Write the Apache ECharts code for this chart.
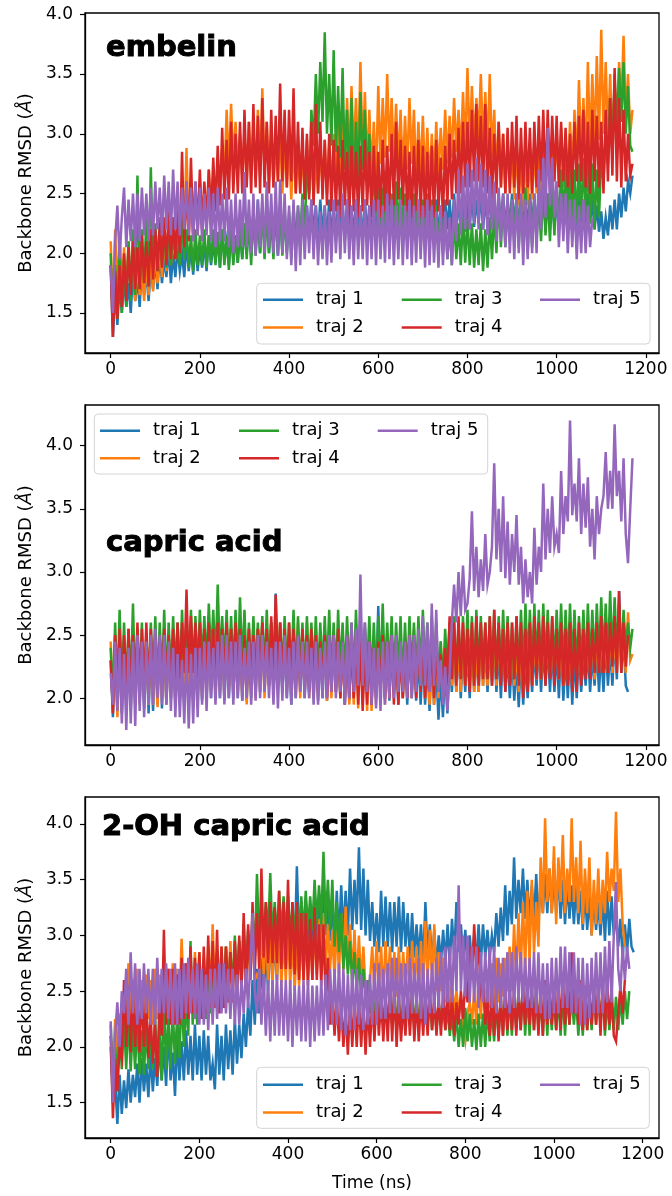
<!DOCTYPE html>
<html><head><meta charset="utf-8">
<script src="https://cdn.jsdelivr.net/npm/echarts@6/dist/echarts.min.js"></script>
<style>html,body{margin:0;padding:0;background:#fff}#c{width:672px;height:1196px}</style>
</head><body><div id="c"></div>
<script>
const TIME = [0,5,10,15,20,25,30,35,40,45,50,55,60,65,70,75,80,85,90,95,
100,105,110,115,120,125,130,135,140,145,150,155,160,165,170,175,180,185,190,195,
200,205,210,215,220,225,230,235,240,245,250,255,260,265,270,275,280,285,290,295,
300,305,310,315,320,325,330,335,340,345,350,355,360,365,370,375,380,385,390,395,
400,405,410,415,420,425,430,435,440,445,450,455,460,465,470,475,480,485,490,495,
500,505,510,515,520,525,530,535,540,545,550,555,560,565,570,575,580,585,590,595,
600,605,610,615,620,625,630,635,640,645,650,655,660,665,670,675,680,685,690,695,
700,705,710,715,720,725,730,735,740,745,750,755,760,765,770,775,780,785,790,795,
800,805,810,815,820,825,830,835,840,845,850,855,860,865,870,875,880,885,890,895,
900,905,910,915,920,925,930,935,940,945,950,955,960,965,970,975,980,985,990,995,
1000,1005,1010,1015,1020,1025,1030,1035,1040,1045,1050,1055,1060,1065,1070,1075,1080,1085,1090,1095,
1100,1105,1110,1115,1120,1125,1130,1135,1140,1145,1150,1155,1160,1165,1170,1175,1180];
const NAMES = ['traj 1','traj 2','traj 3','traj 4','traj 5'];
const COLORS = ['#1f77b4','#ff7f0e','#2ca02c','#d62728','#9467bd'];
const TITLES = ['embelin','capric acid','2-OH capric acid'];
const X_TICKS = [0,200,400,600,800,1000,1200];
const Y_TICKS_1 = [1.5,2.0,2.5,3.0,3.5,4.0];
const Y_TICKS_2 = [2.0,2.5,3.0,3.5,4.0];
const Y_TICKS_3 = [1.5,2.0,2.5,3.0,3.5,4.0];

// ---- panel 1: embelin ----
const E_T1 = [1.9,1.3,1.7,1.4,1.75,1.5,1.8,1.55,1.75,1.5,1.85,1.6,1.8,1.55,1.9,1.65,1.85,1.6,1.9,1.7,
1.95,1.7,2.0,1.75,1.95,1.8,2.05,1.75,2.0,1.8,2.05,1.85,2.0,1.8,2.1,1.85,2.05,1.82,2.1,1.85,
2.05,1.88,2.1,1.85,2.15,1.9,2.1,1.92,2.15,1.88,2.2,1.95,2.1,1.9,2.2,1.95,2.15,1.92,2.25,1.95,
2.25,2.0,2.3,1.98,2.35,2.05,2.45,2.0,2.4,2.05,2.45,2.0,2.4,2.05,2.35,1.98,2.4,2.0,2.35,2.02,
2.3,2.05,2.4,2.1,2.35,2.05,2.45,2.1,2.4,2.1,2.45,2.15,2.4,2.1,2.45,2.15,2.4,2.1,2.45,2.12,
2.4,2.1,2.45,2.15,2.4,2.1,2.45,2.15,2.4,2.12,2.45,2.15,2.4,2.1,2.45,2.15,2.4,2.1,2.45,2.12,
2.45,2.15,2.4,2.1,2.45,2.15,2.4,2.1,2.45,2.12,2.4,2.15,2.45,2.1,2.4,2.15,2.35,2.1,2.4,2.12,
2.4,2.15,2.45,2.1,2.4,2.15,2.45,2.12,2.4,2.15,2.45,2.2,2.45,2.15,2.5,2.2,2.45,2.2,2.5,2.18,
2.45,2.2,2.5,2.22,2.45,2.25,2.5,2.2,2.45,2.25,2.5,2.2,2.48,2.2,2.45,2.25,2.5,2.2,2.45,2.22,
2.5,2.25,2.45,2.2,2.5,2.25,2.45,2.2,2.5,2.25,2.45,2.22,2.5,2.2,2.45,2.25,2.5,2.2,2.45,2.22,
2.45,2.2,2.5,2.25,2.45,2.2,2.5,2.25,2.45,2.2,2.5,2.25,2.45,2.2,2.5,2.25,2.45,2.2,2.4,2.18,
2.35,2.12,2.3,2.15,2.4,2.2,2.45,2.2,2.5,2.3,2.55,2.35,2.6,2.5,2.65];
const E_T2 = [2.1,1.5,2.2,1.65,2.15,1.7,2.05,1.65,2.1,1.7,2.0,1.6,1.95,1.65,1.9,1.6,1.95,1.65,2.0,1.68,
2.05,1.75,2.1,1.8,2.15,1.85,2.2,1.9,2.15,1.95,2.25,1.95,2.5,2.1,2.88,2.15,2.6,2.1,2.55,2.15,
2.6,2.2,2.55,2.2,2.7,2.3,2.65,2.4,2.8,2.5,2.9,2.6,3.2,2.7,3.25,2.75,3.1,2.7,3.0,2.65,
3.0,2.6,3.1,2.65,3.05,2.6,3.2,2.65,3.38,2.7,3.1,2.6,3.0,2.55,2.95,2.6,3.05,2.5,2.95,2.55,
2.9,2.45,2.95,2.5,2.85,2.5,2.9,2.45,2.95,2.5,2.85,2.45,2.8,2.5,2.9,2.55,2.95,2.5,2.9,2.55,
3.0,2.6,3.1,2.65,3.15,2.7,3.3,2.75,3.4,2.8,3.3,2.75,3.6,2.8,3.35,2.7,3.2,2.65,3.1,2.6,
3.4,2.75,3.3,2.8,3.5,2.85,3.3,2.75,3.25,2.7,3.2,2.65,3.15,2.7,3.3,2.75,3.2,2.6,3.1,2.65,
3.15,2.6,3.05,2.55,3.0,2.6,3.1,2.65,3.05,2.7,3.2,2.75,3.15,2.8,3.3,2.85,3.2,2.8,3.35,2.85,
3.55,2.9,3.4,2.9,3.3,2.95,3.5,2.9,3.35,2.85,3.5,2.8,3.2,2.6,3.1,2.55,3.0,2.5,2.95,2.55,
2.9,2.45,2.95,2.4,2.85,2.35,2.9,2.4,2.85,2.45,2.9,2.5,2.95,2.5,2.9,2.55,3.0,2.55,2.95,2.6,
3.0,2.6,3.05,2.55,2.95,2.6,3.1,2.65,3.2,2.7,3.45,2.8,3.3,2.75,3.6,2.85,3.5,2.9,3.65,2.95,
3.87,3.0,3.6,2.95,3.5,2.9,3.4,3.1,3.6,3.2,3.82,3.1,3.5,3.0,3.2];
const E_T3 = [2.0,1.4,1.9,1.45,2.1,1.5,1.95,1.55,2.1,1.6,2.2,1.65,2.65,1.7,2.2,1.75,2.3,1.85,2.72,1.9,
2.25,1.85,2.3,1.9,2.2,1.88,2.25,1.9,2.3,1.95,2.25,1.9,2.3,1.95,2.2,1.88,2.15,1.85,2.2,1.9,
2.15,1.9,2.2,1.88,2.15,1.92,2.2,1.9,2.18,1.88,2.2,1.9,2.15,1.86,2.2,1.9,2.15,1.92,2.2,1.95,
2.25,1.95,2.3,1.9,2.35,1.98,2.3,2.0,2.4,1.95,2.35,2.0,2.3,1.95,2.45,2.0,2.4,1.98,2.35,2.0,
2.35,1.95,2.3,2.0,2.4,2.05,2.5,2.1,2.8,2.5,3.2,2.9,3.5,3.0,3.6,3.1,3.85,3.0,3.5,2.9,
3.7,2.85,3.4,2.8,3.55,2.7,3.2,2.6,3.3,2.5,3.1,2.6,3.35,2.7,3.2,2.6,3.0,2.4,2.7,2.3,
2.6,2.2,2.55,2.25,2.6,2.2,2.5,2.25,2.6,2.2,2.55,2.2,2.5,2.15,2.55,2.2,2.5,2.15,2.45,2.2,
2.45,2.2,2.5,2.15,2.45,2.1,2.4,2.05,2.35,2.0,2.3,1.95,2.25,1.9,2.3,1.95,2.25,1.9,2.3,1.92,
2.3,1.9,2.25,1.88,2.2,1.9,2.25,1.85,2.2,1.88,2.3,1.95,2.35,2.0,2.5,2.05,2.45,2.05,2.4,2.1,
2.45,2.1,2.5,2.05,2.45,2.05,2.55,2.0,2.45,2.05,2.5,2.1,2.45,2.1,2.55,2.15,2.5,2.1,2.55,2.15,
2.6,2.2,2.7,2.25,2.75,2.25,2.8,2.2,2.7,2.25,2.75,2.3,2.8,2.3,2.85,2.25,2.75,2.2,2.7,2.3,
2.8,2.6,3.0,2.75,3.3,2.8,3.5,3.0,3.55,3.1,3.6,3.0,3.4,2.9,2.85];
const E_T4 = [1.9,1.3,1.85,1.45,1.9,1.55,2.0,1.6,2.05,1.65,2.1,1.7,2.05,1.7,2.15,1.75,2.1,1.72,2.2,1.78,
2.2,1.85,2.25,1.88,2.3,1.9,2.35,1.95,2.3,1.95,2.4,2.0,2.85,2.05,2.6,2.1,2.8,2.15,2.6,2.2,
2.7,2.2,2.6,2.25,2.7,2.3,2.8,2.35,2.9,2.4,3.05,2.45,2.95,2.45,3.1,2.5,3.0,2.5,3.1,2.5,
3.2,2.55,3.1,2.5,3.25,2.55,3.15,2.5,3.3,2.55,3.1,2.5,3.2,2.55,3.15,2.6,3.42,2.6,3.2,2.55,
3.2,2.6,3.38,2.5,3.1,2.5,3.05,2.45,3.0,2.45,3.1,2.4,3.25,2.5,3.1,2.45,2.95,2.4,3.0,2.35,
2.95,2.35,2.9,2.3,2.95,2.4,2.85,2.3,2.9,2.35,2.85,2.3,2.9,2.35,2.95,2.4,2.85,2.3,2.9,2.35,
2.85,2.3,2.95,2.35,2.9,2.4,3.0,2.4,3.1,2.45,2.95,2.4,2.9,2.35,2.85,2.3,2.9,2.35,2.95,2.3,
2.9,2.3,2.85,2.35,2.9,2.3,2.95,2.35,2.8,2.3,2.9,2.4,3.0,2.45,2.95,2.5,3.05,2.5,3.1,2.55,
3.1,2.55,3.2,2.6,3.25,2.6,3.15,2.55,3.25,2.5,3.05,2.45,3.0,2.5,3.1,2.55,3.0,2.5,3.05,2.5,
3.1,2.55,3.15,2.45,3.05,2.5,3.1,2.55,3.05,2.5,3.1,2.55,3.15,2.6,3.2,2.55,3.2,2.6,3.15,2.6,
3.15,2.55,3.1,2.6,3.05,2.55,3.0,2.5,3.1,2.6,3.15,2.6,3.2,2.55,3.1,2.5,3.2,2.6,3.15,2.55,
3.1,2.5,3.2,2.6,3.3,2.65,3.55,2.6,3.3,2.55,3.2,2.6,3.0,2.65,2.75];
const E_T5 = [1.9,1.5,2.1,2.4,1.95,2.3,2.55,2.05,2.45,2.1,2.5,2.05,2.5,2.1,2.55,2.15,2.5,2.1,2.55,2.15,
2.6,2.2,2.55,2.15,2.65,2.2,2.6,2.15,2.7,2.2,2.6,2.15,2.55,2.2,2.6,2.15,2.55,2.1,2.6,2.15,
2.55,2.1,2.5,2.15,2.55,2.1,2.5,2.05,2.55,2.1,2.5,2.1,2.55,2.05,2.45,2.0,2.5,2.05,2.45,2.05,
2.68,2.05,2.45,2.0,2.5,1.98,2.45,2.05,2.5,2.0,2.6,2.05,2.5,2.0,2.6,1.98,2.62,2.0,2.5,1.95,
2.4,1.9,2.45,1.85,2.4,1.9,2.45,1.95,2.4,2.0,2.45,1.95,2.4,1.9,2.35,1.95,2.4,1.9,2.35,1.92,
2.45,2.0,2.4,1.95,2.5,2.0,2.45,1.95,2.4,1.9,2.45,1.95,2.4,1.95,2.45,1.9,2.4,1.95,2.45,1.9,
2.45,1.95,2.4,1.92,2.5,1.95,2.45,1.9,2.4,1.95,2.45,1.9,2.4,1.95,2.45,1.9,2.4,1.92,2.45,1.95,
2.4,1.88,2.45,1.9,2.4,1.92,2.35,1.88,2.4,1.9,2.35,1.95,2.3,1.9,2.45,2.1,2.7,2.15,2.65,2.2,
2.75,2.2,2.7,2.25,2.8,2.2,2.75,2.2,2.7,2.15,2.65,2.2,2.6,2.1,2.55,2.1,2.5,2.05,2.5,2.0,
2.45,1.95,2.5,2.0,2.5,1.9,2.45,1.95,2.45,2.0,2.5,2.0,2.7,2.2,2.8,2.3,3.05,2.4,2.8,2.3,
2.6,2.05,2.5,2.1,2.5,2.0,2.45,2.05,2.45,1.95,2.4,2.0,2.45,2.0,2.4,2.05,2.3];

// ---- panel 2: capric acid ----
const C_T1 = [2.3,1.85,2.4,1.9,2.45,1.88,2.4,1.95,2.45,1.9,2.5,1.95,2.45,2.0,2.4,1.92,2.45,1.88,2.4,1.9,
2.4,1.95,2.45,1.92,2.4,1.95,2.5,2.0,2.45,1.95,2.5,2.0,2.45,1.95,2.4,2.0,2.5,1.98,2.45,2.0,
2.45,1.98,2.5,2.0,2.55,2.0,2.5,2.02,2.55,2.0,2.5,1.98,2.45,2.0,2.55,2.02,2.5,2.0,2.55,1.98,
2.5,1.98,2.45,2.0,2.5,2.02,2.55,2.05,2.6,2.05,2.5,2.1,2.6,2.05,2.83,2.1,2.5,2.05,2.45,2.0,
2.5,1.95,2.45,2.0,2.5,2.05,2.45,2.0,2.5,2.05,2.45,2.0,2.5,1.98,2.45,2.0,2.55,1.98,2.5,2.05,
2.5,2.05,2.45,2.0,2.5,1.95,2.45,1.98,2.5,2.0,2.55,2.05,2.5,2.0,2.55,2.05,2.5,2.0,2.45,2.05,
2.73,2.05,2.5,2.0,2.45,1.98,2.5,2.05,2.4,1.95,2.45,2.0,2.4,1.95,2.45,2.0,2.4,1.98,2.35,1.95,
2.35,1.95,2.3,1.9,2.35,1.95,2.25,1.83,2.2,1.85,2.25,1.88,2.35,2.05,2.4,2.05,2.45,2.0,2.4,2.05,
2.4,2.0,2.45,2.05,2.4,2.05,2.45,2.1,2.4,2.05,2.45,2.1,2.4,2.05,2.4,2.0,2.45,2.05,2.35,2.0,
2.35,1.98,2.3,1.93,2.35,1.95,2.3,2.0,2.35,2.05,2.4,2.1,2.45,2.05,2.4,2.1,2.45,2.05,2.4,2.05,
2.4,2.0,2.45,1.98,2.35,2.0,2.4,1.95,2.35,2.0,2.4,2.05,2.35,2.1,2.4,2.05,2.35,2.1,2.4,2.05,
2.4,2.05,2.45,2.1,2.4,2.1,2.5,2.15,2.85,2.2,2.5,2.1,2.05];
const C_T2 = [2.45,1.9,2.5,1.85,2.4,1.9,2.45,1.95,2.4,1.95,2.45,2.0,2.4,1.95,2.45,2.0,2.4,1.95,2.45,1.95,
2.45,1.93,2.4,2.0,2.45,1.95,2.5,2.0,2.5,1.95,2.55,2.0,2.5,2.05,2.5,2.0,2.55,2.05,2.5,2.05,
2.55,2.0,2.5,1.98,2.6,2.05,2.55,2.0,2.6,2.05,2.55,2.0,2.6,2.05,2.55,2.0,2.6,2.05,2.55,2.0,
2.5,1.95,2.55,2.05,2.6,2.0,2.55,2.05,2.6,2.0,2.55,2.1,2.6,2.05,2.55,2.1,2.6,2.05,2.55,2.05,
2.5,2.0,2.55,2.05,2.6,2.0,2.55,2.05,2.6,2.0,2.5,2.05,2.55,2.0,2.5,2.05,2.55,1.98,2.5,2.0,
2.5,2.05,2.55,2.0,2.5,2.0,2.45,1.95,2.5,1.95,2.45,1.92,2.5,1.95,2.45,1.9,2.45,1.9,2.5,1.95,
2.5,2.0,2.55,1.95,2.5,2.0,2.5,2.05,2.45,2.0,2.45,2.0,2.5,2.05,2.55,2.0,2.55,2.05,2.5,2.05,
2.5,2.0,2.45,1.95,2.45,1.95,2.4,2.0,2.45,2.0,2.4,2.05,2.6,2.1,2.5,2.05,2.45,2.05,2.5,2.1,
2.4,2.1,2.45,2.05,2.4,2.05,2.5,2.1,2.45,2.1,2.5,2.15,2.45,2.1,2.5,2.15,2.45,2.1,2.5,2.15,
2.45,2.1,2.4,2.05,2.45,2.05,2.45,2.1,2.4,2.1,2.5,2.15,2.45,2.15,2.5,2.2,2.45,2.2,2.5,2.15,
2.5,2.15,2.45,2.1,2.5,2.15,2.45,2.1,2.5,2.15,2.45,2.15,2.5,2.2,2.45,2.2,2.5,2.15,2.5,2.2,
2.55,2.2,2.5,2.2,2.55,2.2,2.5,2.2,2.6,2.25,2.55,2.2,2.68,2.3,2.35];
const C_T3 = [2.4,2.0,2.6,2.05,2.7,2.1,2.6,2.05,2.55,2.1,2.75,2.05,2.55,2.1,2.6,2.05,2.5,2.1,2.6,2.15,
2.65,2.1,2.6,2.15,2.7,2.1,2.6,2.15,2.65,2.2,2.6,2.15,2.7,2.2,2.65,2.25,2.7,2.2,2.65,2.2,
2.7,2.25,2.65,2.25,2.75,2.3,2.7,2.25,2.9,2.3,2.65,2.25,2.7,2.2,2.65,2.2,2.7,2.2,2.8,2.25,
2.7,2.2,2.6,2.15,2.65,2.2,2.6,2.2,2.65,2.2,2.7,2.15,2.6,2.2,2.65,2.15,2.6,2.2,2.65,2.2,
2.6,2.2,2.7,2.15,2.65,2.2,2.6,2.15,2.65,2.2,2.6,2.2,2.65,2.15,2.6,2.2,2.65,2.2,2.7,2.15,
2.6,2.15,2.7,2.2,2.6,2.15,2.65,2.2,2.6,2.15,2.7,2.2,2.65,2.15,2.6,2.2,2.65,2.1,2.6,2.15,
2.65,2.2,2.75,2.15,2.6,2.2,2.65,2.15,2.6,2.2,2.65,2.1,2.6,2.15,2.65,2.2,2.6,2.15,2.65,2.2,
2.7,2.2,2.6,2.15,2.65,2.2,2.6,2.15,2.45,2.1,2.55,2.2,2.6,2.2,2.65,2.15,2.6,2.2,2.65,2.15,
2.7,2.2,2.65,2.15,2.7,2.2,2.65,2.2,2.6,2.15,2.65,2.2,2.7,2.15,2.65,2.2,2.7,2.2,2.65,2.2,
2.6,2.15,2.65,2.2,2.7,2.2,2.75,2.25,2.7,2.2,2.75,2.25,2.7,2.2,2.75,2.25,2.7,2.2,2.65,2.25,
2.7,2.25,2.75,2.2,2.7,2.25,2.75,2.25,2.7,2.2,2.65,2.25,2.7,2.2,2.75,2.25,2.7,2.25,2.75,2.3,
2.8,2.3,2.75,2.3,2.85,2.3,2.8,2.35,2.75,2.3,2.7,2.4,2.6,2.4,2.55];
const C_T4 = [2.3,1.88,2.5,1.95,2.55,2.0,2.5,2.05,2.55,2.0,2.5,2.05,2.6,2.05,2.55,2.1,2.6,2.05,2.55,2.1,
2.5,2.05,2.45,2.1,2.55,2.1,2.5,2.1,2.55,2.15,2.6,2.15,2.6,2.2,2.86,2.2,2.65,2.2,2.6,2.15,
2.6,2.15,2.55,2.2,2.6,2.15,2.55,2.1,2.6,2.15,2.55,2.15,2.6,2.1,2.55,2.15,2.6,2.1,2.55,2.1,
2.5,2.05,2.55,2.1,2.5,2.1,2.55,2.15,2.6,2.15,2.55,2.1,2.65,2.15,2.82,2.2,2.6,2.15,2.55,2.1,
2.6,2.05,2.55,2.1,2.5,2.1,2.55,2.05,2.5,2.05,2.55,2.1,2.5,2.05,2.45,2.1,2.5,2.0,2.45,2.05,
2.5,2.05,2.55,2.0,2.45,1.95,2.5,2.0,2.45,2.0,2.5,1.95,2.45,1.9,2.4,1.95,2.45,1.95,2.4,2.0,
2.45,2.05,2.5,2.0,2.45,2.0,2.5,1.95,2.45,1.95,2.4,2.0,2.45,2.0,2.5,2.05,2.45,2.0,2.5,2.05,
2.45,2.0,2.4,2.05,2.45,2.0,2.4,2.05,2.35,2.05,2.4,2.1,2.65,2.15,2.6,2.1,2.65,2.15,2.6,2.1,
2.55,2.05,2.6,2.1,2.65,2.1,2.6,2.15,2.6,2.15,2.65,2.1,2.7,2.15,2.6,2.1,2.55,2.05,2.6,2.1,
2.6,2.15,2.65,2.1,2.6,2.0,2.55,2.05,2.6,2.1,2.65,2.15,2.6,2.15,2.65,2.1,2.6,2.15,2.65,2.1,
2.55,2.15,2.6,2.1,2.55,2.1,2.6,2.05,2.55,2.05,2.6,2.1,2.55,2.15,2.6,2.15,2.55,2.2,2.6,2.2,
2.65,2.2,2.6,2.2,2.6,2.25,2.65,2.2,2.85,2.2,2.6,2.25,2.5];
const C_T5 = [2.2,1.95,2.45,1.9,2.4,1.8,2.35,1.75,2.4,1.8,2.45,1.78,2.5,1.9,2.45,1.85,2.45,1.95,2.5,1.95,
2.55,2.0,2.5,1.95,2.5,1.95,2.45,1.9,2.4,1.85,2.35,1.85,2.3,1.8,2.4,1.76,2.35,1.8,2.4,1.85,
2.4,1.95,2.45,1.9,2.45,2.0,2.4,1.95,2.45,2.0,2.5,1.95,2.5,2.0,2.45,1.95,2.45,2.0,2.5,1.98,
2.4,2.0,2.45,1.95,2.45,1.98,2.5,2.0,2.5,2.05,2.45,2.0,2.4,1.95,2.45,1.92,2.45,1.98,2.5,2.0,
2.4,1.95,2.45,2.0,2.5,2.05,2.45,2.0,2.45,2.0,2.4,1.95,2.45,1.95,2.4,2.0,2.45,2.0,2.5,2.05,
2.5,2.0,2.45,2.05,2.45,1.95,2.5,2.0,2.6,2.05,2.55,2.1,2.98,2.1,2.6,2.05,2.45,1.95,2.4,1.92,
2.4,1.9,2.45,1.95,2.45,2.0,2.5,2.0,2.5,2.05,2.45,2.05,2.45,2.0,2.5,2.0,2.5,2.05,2.55,2.1,
2.65,2.1,2.6,2.05,2.75,2.1,2.7,2.05,2.3,1.95,2.25,1.9,2.2,2.6,2.9,2.6,3.0,2.65,3.05,2.7,
2.75,2.95,3.48,2.85,3.2,2.8,3.1,2.85,3.3,2.9,3.0,3.2,3.86,3.1,3.5,3.0,3.6,2.95,3.4,2.9,
3.3,3.0,3.45,2.9,3.2,2.75,3.1,2.8,3.0,2.75,3.35,2.9,3.2,3.0,3.7,3.1,3.5,3.15,3.6,3.2,
3.3,3.15,3.8,3.3,3.6,3.4,4.2,3.45,3.7,3.4,3.9,3.3,3.7,3.35,3.75,3.2,3.5,3.1,3.6,3.3,
3.5,3.6,3.95,3.5,3.8,3.5,4.17,3.6,3.8,3.4,3.9,3.3,3.07,3.5,3.9];

// ---- panel 3: 2-OH capric acid ----
const H_T1 = [2.0,1.5,1.7,1.31,1.75,1.4,1.7,1.45,1.8,1.5,1.75,1.55,1.85,1.5,1.9,1.6,1.85,1.55,1.95,1.6,
1.9,1.65,2.05,1.7,2.0,1.65,2.2,1.7,1.95,1.56,2.1,1.7,2.05,1.7,2.15,1.75,2.1,1.7,2.2,1.75,
2.1,1.7,2.15,1.75,2.1,1.7,1.85,1.62,2.2,1.75,2.1,1.7,2.2,1.8,2.15,1.75,2.25,1.85,2.2,1.9,
2.3,2.0,2.4,2.1,2.6,2.2,2.7,2.3,2.8,2.4,2.9,2.5,3.0,2.6,2.95,2.6,3.1,2.7,3.0,2.7,
3.3,2.8,3.2,2.85,3.62,2.9,3.3,2.85,3.3,2.85,3.25,2.9,3.4,2.9,3.35,2.95,3.5,3.0,3.3,2.95,
3.3,2.9,3.4,2.95,3.45,3.0,3.4,3.0,3.6,3.05,3.5,3.1,3.79,3.05,3.6,3.0,3.5,2.95,3.3,2.9,
3.2,2.85,3.4,2.9,3.35,2.9,3.3,2.85,3.3,2.9,3.35,2.85,3.3,2.9,3.2,2.8,3.2,2.8,3.1,2.8,
3.1,2.75,3.3,2.8,3.1,2.75,3.05,2.7,3.0,2.75,3.05,2.75,3.1,2.75,3.15,2.8,3.3,2.85,3.1,2.8,
3.05,2.7,3.0,2.72,3.0,2.75,3.1,2.75,3.1,2.8,3.05,2.8,3.0,2.85,3.2,2.9,3.25,2.95,3.45,3.0,
3.4,3.1,3.7,3.15,3.5,3.2,3.6,3.15,3.5,3.1,3.45,3.15,3.55,3.1,3.5,3.2,3.55,3.2,3.6,3.2,
3.55,3.2,3.55,3.15,3.5,3.1,3.5,3.15,3.45,3.1,3.45,3.1,3.4,3.05,3.4,3.05,3.35,3.0,3.35,3.05,
3.3,3.0,3.35,2.95,3.4,3.0,3.35,3.0,3.2,2.9,3.15,2.8,3.1,2.85,3.15,2.9,2.85];
const H_T2 = [2.1,1.8,2.25,1.95,2.3,2.0,2.5,2.1,2.75,2.2,2.6,2.2,2.7,2.25,2.6,2.2,2.65,2.25,2.6,2.2,
2.7,2.25,2.65,2.3,2.8,2.3,2.7,2.3,2.75,2.35,2.7,2.35,2.97,2.4,2.75,2.4,2.8,2.35,2.85,2.4,
2.85,2.4,2.8,2.45,2.9,2.5,3.1,2.5,2.85,2.5,2.9,2.45,2.9,2.5,2.95,2.5,2.9,2.5,2.95,2.55,
2.95,2.55,3.0,2.6,3.05,2.6,2.65,2.6,3.1,2.65,3.05,2.6,3.0,2.55,3.1,2.6,3.05,2.55,3.0,2.6,
3.1,2.55,3.0,2.5,2.95,2.55,3.05,2.6,3.0,2.6,3.05,2.6,3.1,2.65,3.15,2.7,3.2,2.7,3.1,2.7,
3.05,2.6,3.15,2.65,3.2,2.7,3.26,2.7,3.1,2.6,3.05,2.55,3.0,2.55,2.9,2.5,2.48,2.6,2.9,2.5,
2.95,2.5,2.9,2.45,2.95,2.5,2.9,2.5,2.85,2.45,2.9,2.5,2.85,2.45,2.9,2.5,2.95,2.55,2.9,2.5,
2.95,2.5,3.13,2.6,3.05,2.6,3.1,2.5,2.85,2.5,2.8,2.4,2.7,2.35,2.6,2.3,2.5,2.33,2.4,2.2,
2.06,2.3,2.4,2.2,2.5,2.2,2.6,2.25,2.65,2.3,2.7,2.35,2.75,2.3,2.8,2.4,2.75,2.45,2.8,2.5,
2.9,2.5,3.1,2.6,3.2,2.65,3.3,2.7,3.4,2.75,3.5,2.84,3.3,2.9,3.7,3.2,4.05,3.3,3.6,3.2,
3.8,3.1,3.7,3.3,3.9,3.2,3.6,3.3,4.05,3.3,3.7,3.2,3.85,3.1,3.6,3.2,3.7,3.0,3.5,3.1,
3.6,3.1,3.5,3.2,3.75,3.3,3.6,3.4,4.11,3.3,3.6,3.1,2.9];
const H_T3 = [2.2,1.7,2.0,1.75,2.2,1.8,2.25,1.8,2.3,1.78,2.2,1.8,2.25,1.75,2.15,1.75,2.2,1.8,2.15,1.8,
2.3,1.75,2.2,1.7,2.42,1.8,2.3,1.8,2.35,1.85,2.3,1.9,2.5,2.0,2.4,2.1,2.95,2.2,2.7,2.2,
2.7,2.25,2.75,2.25,2.8,2.3,2.75,2.35,2.85,2.4,2.8,2.4,2.9,2.45,2.85,2.5,3.0,2.55,2.95,2.6,
3.1,2.65,3.05,2.7,3.2,2.8,3.55,2.9,3.3,2.95,3.3,3.0,3.56,2.95,3.3,2.95,3.4,3.0,3.35,3.0,
3.35,2.95,3.3,3.0,3.3,3.0,3.35,3.0,3.4,3.05,3.35,3.05,3.5,3.1,3.45,3.1,3.75,3.1,3.5,3.05,
3.5,2.9,3.3,2.85,3.2,2.7,3.0,2.65,2.95,2.55,2.85,2.5,2.8,2.45,2.7,2.4,2.6,2.3,2.5,2.25,
2.5,2.2,2.45,2.2,2.45,2.2,2.5,2.2,2.5,2.15,2.45,2.15,2.45,2.2,2.5,2.2,2.5,2.15,2.45,2.2,
2.4,2.2,2.45,2.2,2.45,2.15,2.4,2.15,2.4,2.2,2.35,2.15,2.35,2.1,2.3,2.05,2.3,2.0,2.25,2.0,
2.35,2.05,2.3,2.0,2.25,1.97,2.3,2.0,2.3,2.0,2.35,2.05,2.35,2.05,2.4,2.1,2.45,2.1,2.5,2.1,
2.5,2.1,2.45,2.15,2.5,2.15,2.55,2.1,2.5,2.1,2.5,2.15,2.55,2.15,2.45,2.1,2.5,2.1,2.5,2.15,
2.45,2.15,2.45,2.1,2.5,2.1,2.5,2.2,2.45,2.2,2.45,2.1,2.4,2.1,2.45,2.15,2.45,2.15,2.5,2.2,
2.5,2.2,2.5,2.1,2.45,2.15,2.4,2.15,2.45,2.15,2.45,2.2,2.5,2.25,2.5];
const H_T4 = [2.1,1.36,1.9,1.6,2.0,1.9,2.6,2.0,2.55,1.95,2.5,2.0,2.45,1.95,2.5,2.0,2.45,1.9,2.3,1.85,
2.2,1.73,2.4,2.1,3.05,2.2,2.7,2.2,2.7,2.2,2.65,2.2,2.8,2.25,2.75,2.25,2.9,2.3,2.8,2.3,
2.85,2.25,2.9,2.3,3.0,2.35,2.95,2.35,3.05,2.3,2.9,2.35,2.9,2.4,2.85,2.4,2.95,2.5,3.0,2.5,
3.2,2.55,3.1,2.6,3.3,2.65,3.2,2.7,3.6,2.8,3.3,2.75,3.3,2.75,3.25,2.75,3.4,2.7,3.3,2.7,
3.5,2.7,3.3,2.65,3.3,2.6,3.2,2.6,3.2,2.55,3.15,2.6,3.25,2.6,3.1,2.55,3.1,2.4,2.8,2.2,
2.5,2.1,2.45,2.05,2.4,2.0,2.35,1.93,2.4,2.0,2.45,2.0,2.45,2.0,2.4,1.93,2.4,2.0,2.45,2.05,
2.5,2.1,2.45,2.05,2.45,2.05,2.55,2.05,2.55,2.0,2.45,2.05,2.4,2.1,2.5,2.1,2.5,2.05,2.45,2.05,
2.45,2.1,2.5,2.1,2.5,2.15,2.45,2.1,2.45,2.1,2.5,2.15,2.5,2.15,2.45,2.1,2.4,2.2,2.5,2.25,
2.6,2.4,2.9,2.6,3.1,2.7,2.9,2.5,2.6,2.2,2.45,2.1,2.5,2.1,2.5,2.05,2.45,2.1,2.5,2.15,
2.55,2.15,2.5,2.1,2.5,2.15,2.55,2.2,2.6,2.2,2.55,2.15,2.5,2.1,2.55,2.1,2.6,2.2,2.55,2.2,
2.55,2.15,2.6,2.15,2.65,2.2,2.6,2.2,2.85,2.3,2.6,2.2,2.6,2.15,2.55,2.15,2.5,2.2,2.55,2.2,
2.55,2.1,2.6,2.15,2.6,2.2,2.55,2.1,2.05,2.3,2.55,2.3,2.6];
const H_T5 = [2.23,1.5,2.1,2.4,2.0,2.5,2.3,2.7,2.2,2.85,2.3,2.75,2.2,2.7,2.25,2.75,2.3,2.7,2.2,2.7,
2.2,2.8,2.3,2.7,2.3,2.75,2.25,2.7,2.2,2.75,2.2,2.7,2.25,2.75,2.3,2.8,2.3,2.7,2.25,2.75,
2.2,2.7,2.2,2.65,2.15,2.7,2.2,2.7,2.25,2.75,2.3,2.75,2.3,2.7,2.25,2.7,2.2,2.65,2.2,2.6,
2.3,2.7,2.35,2.75,3.2,2.5,2.3,2.7,2.2,2.65,2.1,2.6,2.05,2.6,2.1,2.65,2.1,2.6,2.1,2.6,
2.05,2.6,2.0,2.55,2.1,2.55,2.05,2.6,2.05,2.6,2.0,2.55,2.05,2.55,2.1,2.6,2.1,2.65,2.15,2.7,
2.2,2.7,2.2,2.75,2.15,2.7,2.1,2.65,2.15,2.7,2.15,2.7,2.2,2.65,2.15,2.6,2.2,2.65,2.2,2.75,
2.2,2.75,2.25,2.7,2.25,2.75,2.3,2.8,2.3,2.8,2.3,2.75,2.25,2.75,2.25,2.8,2.3,2.75,2.3,2.8,
2.25,2.75,2.2,2.7,2.3,2.75,2.3,2.8,2.35,2.85,2.35,2.9,2.4,2.9,2.4,3.0,2.5,3.45,2.5,3.0,
2.45,3.0,2.4,2.9,2.4,2.9,2.35,2.85,2.4,2.85,2.4,2.9,2.35,2.9,2.3,2.8,2.35,2.8,2.35,2.85,
2.3,2.85,2.35,2.9,2.4,2.85,2.4,2.8,2.35,2.8,2.35,2.85,2.3,2.85,2.3,2.75,2.25,2.75,2.25,2.8,
2.3,2.8,2.3,2.9,2.35,2.9,2.35,2.85,2.3,2.85,2.3,2.8,2.2,2.8,2.2,2.75,2.25,2.8,2.3,2.85,
2.3,2.85,2.3,2.9,2.4,2.95,2.4,3.0,3.48,2.7,2.5,2.9,2.6,2.9,2.7];

const PANELS = [[E_T1,E_T2,E_T3,E_T4,E_T5],[C_T1,C_T2,C_T3,C_T4,C_T5],[H_T1,H_T2,H_T3,H_T4,H_T5]];
const Y_TICKS = [Y_TICKS_1,Y_TICKS_2,Y_TICKS_3];

// layout (pixels)
const FONT = 'DejaVu Sans';
const GRID_TOP = [13, 405, 797];
const GRID_H = [340, 340, 341];
const YMIN = [1.165, 1.63, 1.183], YMAX = [4.011, 4.322, 4.242];
const XMIN = [-57.6, -57.6, -58], XMAX = [1229.5, 1229.5, 1237];
const TITLE_POS = [[106, 34], [106, 529], [102, 813]];
const LEG_BOX = [[256.7,283.3,393.3,60.7],[94.3,414,393.4,60],[256.7,1067.3,392.6,61]];
const LEG_COLS = [[263,401.7,540],[100,239,377.7],[263,401.7,540]];
const LEG_ROWS = [[298.3,326],[429.3,456.7],[1083.3,1111]];
const LEG_SLOT = [[0,0],[0,1],[1,0],[1,1],[2,0]];

const grid = [], xAxis = [], yAxis = [], series = [], legend = [], title = [], graphic = [];
for (let p = 0; p < 3; p++) {
  grid.push({left: 85, width: 574, top: GRID_TOP[p], height: GRID_H[p], show: true,
    borderColor: '#000', borderWidth: 1.3, backgroundColor: 'transparent'});
  xAxis.push({type: 'value', gridIndex: p, min: XMIN[p], max: XMAX[p], position: 'bottom',
    axisLine: {show: true, onZero: false, lineStyle: {color: '#000', width: 1.3}}, splitLine: {show: false},
    axisTick: {show: true, length: 5, customValues: X_TICKS, lineStyle: {color: '#000', width: 1.2}},
    axisLabel: {customValues: X_TICKS, fontSize: 17, color: '#000', fontFamily: FONT, margin: 8,
      formatter: v => String(v)},
    name: p === 2 ? 'Time (ns)' : '', nameLocation: 'middle', nameGap: 37,
    nameTextStyle: {fontSize: 17, color: '#000', fontFamily: FONT}});
  yAxis.push({type: 'value', gridIndex: p, min: YMIN[p], max: YMAX[p], position: 'left',
    axisLine: {show: true, onZero: false, lineStyle: {color: '#000', width: 1.3}}, splitLine: {show: false},
    axisTick: {show: true, length: 5, customValues: Y_TICKS[p], lineStyle: {color: '#000', width: 1.2}},
    axisLabel: {customValues: Y_TICKS[p], fontSize: 17, color: '#000', fontFamily: FONT, margin: 12,
      formatter: v => v.toFixed(1)},
    name: 'Backbone RMSD ({i|Å})', nameLocation: 'middle', nameGap: 50,
    nameTextStyle: {fontSize: 18, color: '#000', fontFamily: FONT,
      rich: {i: {fontStyle: 'italic', fontSize: 18, color: '#000', fontFamily: FONT}}}});
  PANELS[p].forEach((vals, k) => {
    series.push({name: NAMES[k], type: 'line', xAxisIndex: p, yAxisIndex: p,
      data: vals.map((v, i) => [TIME[i], v]), showSymbol: false, symbol: 'none',
      lineStyle: {width: 2.5, color: COLORS[k], join: 'miter'}, itemStyle: {color: COLORS[k]},
      silent: true, animation: false, emphasis: {disabled: true}});
    const [c, r] = LEG_SLOT[k];
    legend.push({data: [NAMES[k]], left: LEG_COLS[p][c], top: LEG_ROWS[p][r] - 7.5, padding: 0,
      icon: 'rect', itemWidth: 40, itemHeight: 2.5, selectedMode: false, z: 20,
      textStyle: {fontSize: 18, color: '#000', fontFamily: FONT, padding: [0, 0, 0, 8]}});
  });
  title.push({text: TITLES[p], left: TITLE_POS[p][0], top: TITLE_POS[p][1], padding: 0,
    textStyle: {fontFamily: FONT, fontWeight: 'bold', fontSize: 29, color: '#000',
      textBorderColor: '#000', textBorderWidth: 1}});
  const b = LEG_BOX[p];
  graphic.push({type: 'rect', z: 10, shape: {x: b[0], y: b[1], width: b[2], height: b[3], r: 4},
    style: {fill: 'rgba(255,255,255,0.8)', stroke: '#d4d4d4', lineWidth: 1}});
}

const chart = echarts.init(document.getElementById('c'), null, {renderer: 'canvas'});
chart.setOption({animation: false, backgroundColor: '#fff', grid, xAxis, yAxis, series, legend, title, graphic});
</script></body></html>
